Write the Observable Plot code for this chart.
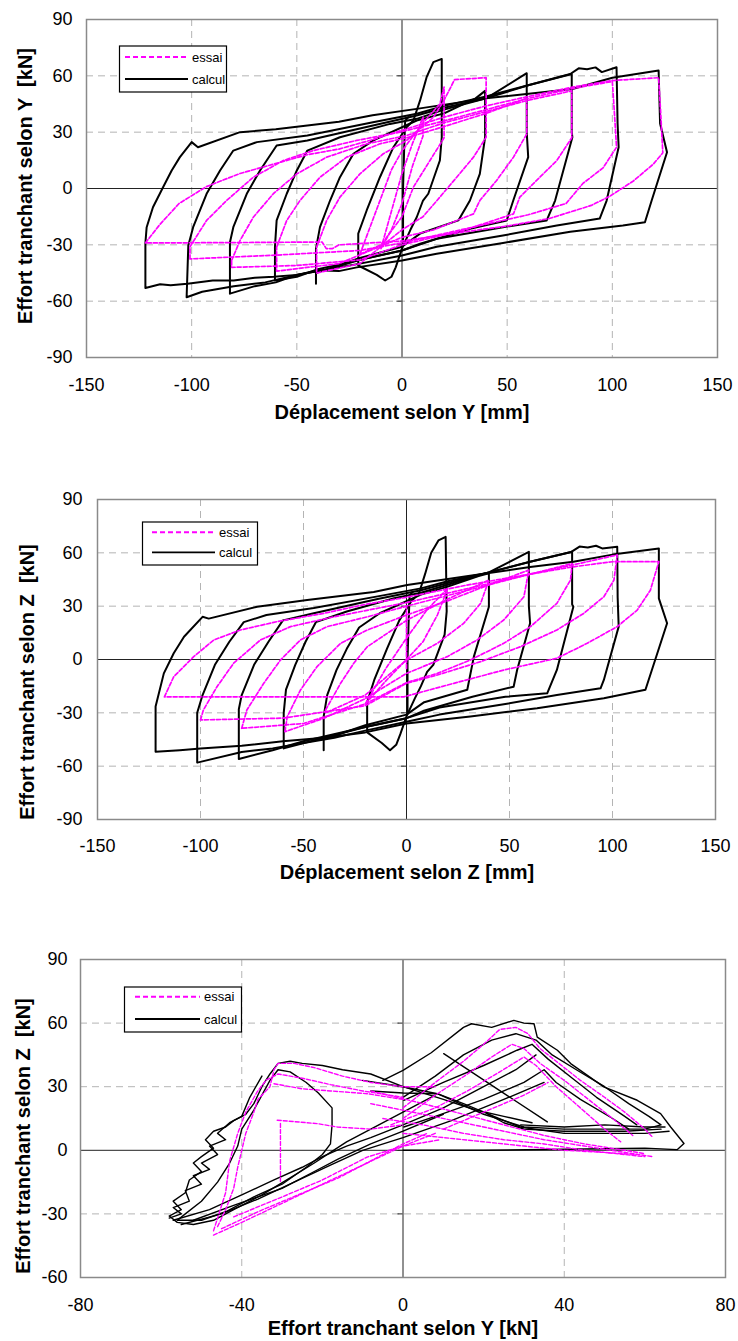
<!DOCTYPE html>
<html><head><meta charset="utf-8">
<script src="https://cdn.jsdelivr.net/npm/d3@7"></script>
<script src="https://cdn.jsdelivr.net/npm/@observablehq/plot@0.6"></script>
<style>
body{margin:0;background:#fff;font-family:"Liberation Sans",Arial,sans-serif;}
.panel{position:absolute;left:0;width:738px;}
</style></head><body>
<div id="p1" class="panel" style="top:0px"></div>
<div id="p2" class="panel" style="top:440px"></div>
<div id="p3" class="panel" style="top:900px"></div>
<script>
// ---------- Tick values ----------
const dispTicks = [-150, -100, -50, 0, 50, 100, 150];
const forceTicks = [-90, -60, -30, 0, 30, 60, 90];
const shearYTicks = [-80, -40, 0, 40, 80];
const shearZTicks = [-60, -30, 0, 30, 60, 90];
const legendLabels = ["essai", "calcul"];

// ---------- Panel 1 : displacement Y [mm] vs shear Y [kN] ----------
const calcY_122 = [[-122,-53],[-122,-29],[-121.4,-20.6],[-118.4,-10],[-113.6,0.7],[-109.5,9.6],[-105.6,16.7],[-100,24.7],[-97,22],[-77,30],[-60,31.5],[-45,33.5],[-30,35.5],[-14,39],[7,42.4],[40,48],[81,53],[100,59],[122,62.8],[122.7,34.6],[126,19.3],[118.7,-6.4],[115.5,-18],[105,-19.7],[80,-23],[48,-29],[16.5,-34.7],[0,-38.3],[-21.5,-42],[-30,-44],[-40,-43.5],[-50,-46],[-61,-47],[-70,-47.5],[-80,-49],[-90,-49],[-102,-50.7],[-110,-51.5],[-115,-51],[-122,-53]];
const calcY_102 = [[-102.4,-57.9],[-101.6,-30.4],[-99.3,-20.6],[-92.9,-2.8],[-86.5,9.6],[-80.2,20.2],[-69,24.7],[-45,28.2],[-13.8,35.3],[7,39.8],[20,44],[40,49],[60,55],[80,61],[84,64],[88,63.5],[92,64.5],[95,62],[102,64.6],[102.5,34.6],[103,22],[97.3,-6.4],[94,-16],[73.6,-19.7],[48,-25],[16.5,-31],[0,-35.7],[-20,-40],[-35,-43],[-50,-46],[-65,-50],[-80,-52],[-95,-55],[-102.4,-57.9]];
const calcY_82 = [[-81.8,-56],[-81.8,-28.6],[-80.2,-20.6],[-73.8,-2.8],[-67.5,9.6],[-59.6,22.9],[-45,25.6],[-13.8,33.5],[7,38.9],[20,43],[40,48],[60,55],[80.7,61],[80.7,30],[81,27.3],[72.8,-6.4],[68.8,-17],[48,-20.6],[16.5,-26.8],[0,-33],[-20,-38],[-35,-43],[-50,-46],[-60,-50],[-70,-52],[-81.8,-56]];
const calcY_60 = [[-60.4,-49],[-60.4,-31],[-59.6,-17],[-54.8,-2.8],[-50,9.6],[-45,20.2],[-29.5,27.3],[-5.7,34.4],[7,37.1],[20,42],[40,48],[59.3,61.4],[59.3,30],[60,16.7],[52.9,-6.4],[49.8,-17],[32.3,-21.5],[8.6,-29.4],[0,-33],[-20,-38],[-40,-43],[-50,-47],[-60.4,-49]];
const calcY_40 = [[-40.9,-50.7],[-40.9,-32],[-39,-20.6],[-34.2,-6.4],[-29.5,6],[-23.1,18.5],[-13.6,25.6],[7,36.2],[20,40],[35,48],[39.5,52],[39.5,27.3],[37,7.8],[32.3,-6.4],[26.8,-17],[8.6,-24],[0,-31],[-20,-37],[-40.9,-45],[-40.9,-50.7]];
const calcY_20 = [[-20.8,-41],[-20.8,-24],[-16.8,-11.7],[-10.5,6],[-4.1,22],[2.2,32.6],[5.4,36.2],[8.6,46.9],[11.7,59.3],[14.9,67.3],[18.9,69],[18.9,27.3],[18,14.9],[12.5,-2.8],[10,-6.4],[7,-15.3],[4,-22],[0,-32],[-3,-42],[-5,-47],[-8,-49],[-12,-46],[-20.8,-41]];
const calcY_0 = [[0.5,-30],[0.5,0],[1,20],[1.5,36],[3,38]];

const essY_122 = [[-122,-29],[-115,-19],[-106,-8],[-93,1],[-77,8],[-61,13],[-45,18],[-30,21],[-14,26],[0,31],[20,38],[40,44],[60,49],[81,54],[100,57.5],[122,59],[123,40],[124,19],[119.5,13],[110,4],[99,-4],[90,-9],[70,-16],[50,-20],[30,-23],[0,-28],[-30,-30],[-33,-32],[-36,-32],[-38,-28.5],[-80,-28.8],[-122,-29]];
const essY_100 = [[-100.8,-37.5],[-100.8,-31],[-92.9,-17],[-83.4,-6.4],[-70.7,6],[-56.4,14.9],[-42.2,20.2],[-21.5,25.6],[-1,30],[20,36],[40,42],[60,48],[80,53],[100,57],[101,40],[102,22],[95.6,11],[86,2.7],[78,-8],[60,-14],[40,-19],[20,-24],[0,-29],[-20,-33],[-60,-35.5],[-100.8,-37.5]];
const essY_80 = [[-81,-38.3],[-77,-27.7],[-70.7,-15.3],[-61.2,-2.8],[-50,7.8],[-35.8,16.7],[-16.8,23.8],[2.2,28.2],[20,35],[40,41],[60,47],[80.7,52],[80.7,27],[73.6,14.9],[64,4.3],[56,-4.6],[53,-13.5],[30,-22],[0,-30],[-20,-38],[-50,-41],[-81,-42],[-81,-38.3]];
const essY_60 = [[-59.6,-31.2],[-54.8,-17],[-48.5,-6.4],[-39,6],[-26.3,16.7],[-10.5,23.8],[2.2,27],[20,33],[40,40],[59.3,48],[59.3,29],[53,16.7],[45,4.3],[37,-6.4],[34,-13.5],[15,-22],[0,-26],[-30,-40],[-59.6,-44],[-59.6,-31.2]];
const essY_40 = [[-40.6,-31.2],[-35.8,-17],[-29.5,-4.6],[-20,7.8],[-8.9,18.5],[2.2,25.6],[15,38],[20,47],[25,58],[40,59],[40,27.3],[34,16.7],[26,6],[18,-4.6],[10,-15],[0,-22],[-20,-40],[-40.6,-45],[-40.6,-31.2]];
const essY_20 = [[-20,-35],[-15,-20],[-10,-5],[-5,10],[0,20],[10,35],[18,45],[20,54],[20,27],[13.3,14.9],[5.4,0.7],[0,-15],[-10,-30],[-20,-35]];
const essY_10 = [[-10,-32],[-5,-12],[0,8],[5,24],[10,38],[10,28],[5,12],[0,-8],[-5,-22],[-10,-32]];

// ---------- Panel 2 : displacement Z [mm] vs shear Z [kN] ----------
const calcZ_122 = [[-121.8,-51.9],[-121.8,-26.5],[-117.8,-7.8],[-113,3.5],[-108,12.8],[-99,24],[-96,23],[-72.5,29.7],[-48.2,33.5],[-15.9,38],[0.3,41.9],[30,47],[60,52],[81,55],[100,59],[122.5,62.5],[122.5,34.4],[126.5,20.4],[116,-17],[95.8,-21.8],[63.4,-27.4],[31,-32],[0,-36],[-20,-41],[-40,-44],[-60,-46],[-80,-48.5],[-100,-50],[-110,-51],[-121.8,-51.9]];
const calcZ_102 = [[-101.6,-58],[-101.6,-30],[-99,-20],[-93,-3],[-86,10],[-79,21],[-68,25],[-45,29],[-14,35.5],[7,40],[20,44],[40,49],[60,55],[80,60.5],[84,63.5],[88,63],[92,64],[95,62.5],[102.3,63.4],[102.5,35],[103,18.5],[95.8,-11.5],[94.2,-16.2],[73,-20],[48,-25],[16,-31],[0,-35],[-20,-40],[-35,-44],[-50,-47],[-65,-50],[-80,-52],[-101.6,-58]];
const calcZ_82 = [[-81.4,-56],[-81.4,-28],[-80,-20],[-74,-3],[-67,10],[-60,22],[-45,26],[-14,34],[7,39],[20,43],[40,49],[60,55],[80.4,60.6],[80.4,31],[81,29.7],[73,-5.9],[68.3,-19],[48,-21],[16,-27],[0,-33],[-20,-38],[-50,-46],[-65,-51],[-81.4,-56]];
const calcZ_60 = [[-59.6,-50],[-59.6,-30],[-58.5,-17],[-54,-3],[-49,10],[-44,21],[-29,27],[-6,34.5],[7,37.5],[20,42],[40,49],[59.4,60.6],[59.4,30],[60,20.4],[53.7,-5.9],[52,-15.3],[32,-21],[8,-29],[0,-33],[-20,-38],[-40,-44],[-59.6,-50]];
const calcZ_40 = [[-40.2,-51],[-40.2,-32],[-38.5,-20],[-34,-6],[-29,6],[-23,18],[-13,26],[7,36.5],[20,41],[35,47],[40,48.5],[40,29.7],[32.7,1.6],[29.5,-17],[8.6,-24],[0,-31],[-20,-37],[-40.2,-45],[-40.2,-51]];
const calcZ_20 = [[-19.1,-41],[-19.1,-24],[-15.5,-11],[-9.5,6],[-3.5,22],[2.5,33],[6,37],[9,48],[12,60],[15.5,67],[19,69],[19.5,27],[18.5,14],[13,-3],[10,-7],[7,-15],[4,-22],[0,-32],[-3,-42],[-5,-48],[-8,-51],[-12,-47],[-19.1,-41]];
const calcZ_0 = [[0.5,-30],[0.5,0],[1,20],[1.5,36],[3,38]];

const essZ_120 = [[-117.5,-21],[-113,-9.7],[-103.3,1.6],[-93.5,11],[-80.6,16.6],[-62.8,21.3],[-40,26],[-20,31],[0,35],[30,42],[60,48],[80,52],[100,55],[122.5,55],[118.4,39],[112,27.8],[102.3,18.5],[87.7,9.1],[73,0.7],[47.3,-5.9],[23,-13.4],[-1.3,-21],[-19,-21],[-60,-21],[-117.5,-21]];
const essZ_100 = [[-100,-34],[-98.6,-28.4],[-92,-15.3],[-83.9,-2.1],[-70.9,11],[-56.3,18.5],[-35.3,24],[0,32],[30,40],[60,48],[80,53],[102.3,58.8],[100.7,44.7],[95.8,35.3],[86.1,26],[73,16.6],[55.3,7.2],[36,-1.2],[15,-8.7],[0,-13.4],[-20,-26],[-60,-33],[-100,-34]];
const essZ_80 = [[-80,-38.7],[-77.5,-28.4],[-69.3,-13.4],[-61.2,-0.3],[-51.5,11],[-38.5,18.5],[-19,24],[0,30],[20,36],[40,42],[60,48],[80.4,54],[79.6,44.7],[73,31.6],[60.2,18.5],[47.2,9.1],[31,-0.3],[15,-7.8],[0,-13],[-20,-25],[-50,-36],[-80,-38.7]];
const essZ_60 = [[-59,-40.6],[-57.9,-32.2],[-51.5,-17.2],[-43.4,-4],[-32,9.1],[-19,16.6],[0,25],[20,33],[40,42],[59.4,50.3],[57,35.3],[47.2,22.2],[34.3,11],[19.8,1.6],[0,-7.8],[-20,-22],[-40,-33],[-59,-40.6]];
const essZ_40 = [[-39.3,-28.4],[-32,-13.4],[-25.6,-2.1],[-19,7.2],[0,22],[20,34],[40,44.7],[36,31.6],[27.8,20.4],[15,9.1],[0,-0.3],[-10,-10],[-20,-20],[-39.3,-30],[-39.3,-28.4]];
const essZ_20 = [[-20,-25],[-10,-5],[0,12],[10,28],[20,40],[15,25],[8,10],[0,0],[-10,-12],[-20,-25]];
const essZ_0 = [[0,-5],[0,30]];

// ---------- Panel 3 : shear Y [kN] vs shear Z [kN] ----------
const calc3_a = [[0,30],[-8,36],[-15,38],[-20,40],[-25,41],[-28,42],[-31,41],[-33,36],[-35,30],[-37,22],[-39,17],[-42,14],[-44,11],[-47,9],[-49,5],[-47,1],[-50,-3],[-52,-6],[-50,-10],[-53,-14],[-54,-20],[-57,-24],[-55,-28],[-58,-31],[-56,-34],[-52,-35],[-47,-33],[-42,-28],[-35,-21],[-28,-13],[-22,-6],[-18,-1],[-14,4],[-8,10],[0,18],[8,26]];
const calc3_b = [[-18,3],[-17.6,12],[-17.6,20],[-21,27],[-24,32],[-28,37],[-31,38],[-33,33],[-35,26],[-37,19],[-40,10],[-41,2],[-43,-6],[-46,-15],[-50,-24],[-54,-30],[-56,-33],[-50,-33],[-44,-29],[-37,-22],[-30,-16],[-24,-8],[-20,-2],[-18,3]];
const calc3_c = [[-35,35],[-38,25],[-40,16],[-43,13],[-46,8],[-44,5],[-48,2],[-46,-2],[-50,-6],[-48,-9],[-52,-12],[-50,-16],[-54,-19],[-53,-24],[-57,-27],[-55,-30],[-58,-32]];
const calc3_d = [[-57,-33],[-48,-28],[-40,-21],[-32,-14],[-25,-8],[-20,-3],[-14,2],[-8,6],[0,12],[10,20],[20,30],[28,38],[33,45]];
const calc3_e = [[-55,-35],[-45,-30],[-36,-23],[-27,-15],[-18,-7],[-10,0],[0,6],[12,14],[25,24],[35,32]];
const calc3_f = [[-52,-33],[-42,-26],[-30,-18],[-22,-10],[-16,-4],[-8,3],[0,9],[10,17]];
const calc3_g = [[-5,33],[0,37.7],[7,46],[15,58],[17,59.7],[22,58],[27.5,61.3],[30,60],[32.5,59.7],[33.3,53.4],[38.3,47.2],[41.6,40.9],[49.8,29.9],[58.1,23.6],[63.9,17.3],[66.4,11],[69.7,3.2],[68,0.3],[60,1],[40,0.5],[20,0],[0,0]];
const calc3_h = [[0,25],[8,35],[15,45],[22,52],[28,55],[33,52],[37,45],[43,38],[50,30],[56,22],[61,16],[64,12],[60,10],[50,10],[40,10],[30,11],[20,17],[8.5,26.7],[0,30]];
const calc3_i = [[0.2,23.6],[10,32],[20,40],[28.3,47.2],[32,50],[36,43],[42,34],[48,25],[55,16],[58,12]];
const calc3_j = [[0.2,11],[8,16],[20,24],[30,32],[35,38],[38,32],[44,24],[52,15],[56,10]];
const calc3_k = [[10.1,45.6],[35.8,13.4]];
const calc3_l = [[29.2,12],[40,11],[50,12],[60,11],[65,11]];
const calc3_m = [[20.9,17.3],[29,11],[40,8],[50,8],[60,8],[66,9]];
const calc3_n = [[-8,28],[0,27],[8.5,26.7],[15,22],[20.9,17.3],[25,13],[30,10],[40,9],[55,9],[64,10]];
const calc3_o = [[-10,33],[0,30],[10,24],[18,19],[25,16],[32,13]];

const ess3_a = [[-47,-40],[-40,-34],[-30,-25],[-20,-16],[-10,-7],[0,2],[8,8]];
const ess3_b = [[-45,-37],[-36,-29],[-26,-21],[-16,-13],[-8,-5],[0,3],[6,8]];
const ess3_c = [[-42,-31.4],[-30,-22],[-20,-14],[-8.9,-3.2],[0,2],[9.3,5]];
const ess3_d = [[-46,-36],[-44,-28],[-42,-18],[-41,-8],[-40,0],[-39,8],[-37,18],[-36,24],[-33,30],[-32,38],[-31,41],[-27,41],[-22,39],[-15,35],[-8,32],[0,30],[8,30]];
const ess3_e = [[-47,-38],[-44,-20],[-43,-5],[-41,8],[-39,18],[-36.2,27.5],[-34,33],[-31,36],[-25,34],[-18,31],[-10,28],[0,25]];
const ess3_f = [[-30.4,12.7],[-30.4,-15.6]];
const ess3_g = [[-32,31.4],[-25,29],[-18,28],[-8.9,26.7],[0,24]];
const ess3_h = [[-31.2,14.2],[-21.3,12.6],[-16.3,11],[-8,10],[0,12]];
const ess3_i = [[0,20],[8,32],[15,42],[20,50],[24,57],[28,58],[31,55],[34,48],[38,42],[44,33],[50,25],[55,18],[60,10],[62,6]];
const ess3_j = [[0,15],[8,26],[16,36],[22,44],[27,50],[30,48],[34,41],[40,33],[46,24],[52,15],[57,7]];
const ess3_k = [[-3,12],[8,20],[16,28],[24,37],[30,44],[33,40],[38,30],[44,20],[50,10],[54,4]];
const ess3_l = [[-8,28],[5,22],[15,17],[25,12],[35,7],[45,3],[55,0],[60,-1.6]];
const ess3_m = [[-8,22],[5,17],[15,13],[25,9],[35,5],[45,2],[55,-1],[62,-3]];
const ess3_n = [[-5,15],[5,12],[15,8],[25,5],[35,3],[45,0],[55,-2],[60,-3]];
const ess3_o = [[0,8],[10,6],[20,4],[30,2],[40,0],[50,-1],[58,-2]];
const ess3_p = [[10,10],[20,18],[30,26],[36,32]];

// ---------- helpers ----------
const toRows = loops => loops.flatMap((pts, k) => pts.map(([x, y]) => ({x, y, k})));
const fmt = d => String(d);
const MAGENTA = "#ff00ff";

function panel(cfg) {
  const xGrid = cfg.xTicks.filter((d, i) => d !== 0 && i > 0 && i < cfg.xTicks.length - 1);
  const yGrid = cfg.yTicks.filter((d, i) => d !== 0 && i > 0 && i < cfg.yTicks.length - 1);
  const svg = Plot.plot({
    width: 738, height: cfg.height,
    marginTop: cfg.m[0], marginRight: cfg.m[1], marginBottom: cfg.m[2], marginLeft: cfg.m[3],
    style: {fontFamily: '"Liberation Sans", Arial, sans-serif', fontSize: "18px", color: "#000", background: "#fff", overflow: "visible"},
    x: {domain: cfg.xDomain, ticks: cfg.xTicks, tickSize: 0, tickPadding: cfg.xPad, tickFormat: fmt, label: null},
    y: {domain: cfg.yDomain, ticks: cfg.yTicks, tickSize: 0, tickPadding: cfg.yPad, tickFormat: fmt, label: null},
    marks: [
      Plot.gridX(xGrid, {stroke: "#b4b4b4", strokeOpacity: 1, strokeDasharray: "7,5"}),
      Plot.gridY(yGrid, {stroke: "#b4b4b4", strokeOpacity: 1, strokeDasharray: "7,5"}),
      Plot.ruleX([0], {stroke: "#222", strokeWidth: 1}),
      Plot.ruleY([0], {stroke: "#222", strokeWidth: 1}),
      Plot.ruleY(cfg.yTicks, {x1: 0, x2: cfg.tickLen, stroke: "#222"}),
      Plot.line(toRows(cfg.calc), {x: "x", y: "y", z: "k", stroke: "#000", strokeWidth: cfg.calcW, strokeLinejoin: "round"}),
      Plot.line(toRows(cfg.ess), {x: "x", y: "y", z: "k", stroke: MAGENTA, strokeWidth: cfg.essW, strokeDasharray: "4,2"}),
      Plot.frame({stroke: "#8a8a8a", strokeWidth: 1.5})
    ]
  });
  const s = d3.select(svg);
  // axis titles
  s.append("text").attr("x", cfg.xTitle[1]).attr("y", cfg.xTitle[2])
    .attr("text-anchor", "middle").attr("font-size", 20).attr("font-weight", "bold")
    .style("white-space", "pre").text(cfg.xTitle[0]);
  s.append("text").attr("transform", `translate(${cfg.yTitle[1]},${cfg.yTitle[2]}) rotate(-90)`)
    .attr("text-anchor", "middle").attr("font-size", 20).attr("font-weight", "bold")
    .style("white-space", "pre").text(cfg.yTitle[0]);
  // legend
  const [bx, by, bw, bh] = cfg.legend;
  const lg = s.append("g").attr("text-anchor", "start");
  lg.append("rect").attr("x", bx).attr("y", by).attr("width", bw).attr("height", bh)
    .attr("fill", "#fff").attr("stroke", "#000").attr("stroke-width", 1.2);
  const [lx1, lx2, tx, ly1, ly2] = cfg.legendLines;
  lg.append("line").attr("x1", lx1).attr("x2", lx2).attr("y1", ly1).attr("y2", ly1)
    .attr("stroke", MAGENTA).attr("stroke-width", 2).attr("stroke-dasharray", "5,3");
  lg.append("line").attr("x1", lx1).attr("x2", lx2).attr("y1", ly2).attr("y2", ly2)
    .attr("stroke", "#000").attr("stroke-width", 1.8);
  lg.append("text").attr("x", tx).attr("y", ly1 + 4.5).attr("font-size", 13).attr("text-anchor", "start").text(legendLabels[0]);
  lg.append("text").attr("x", tx).attr("y", ly2 + 4.5).attr("font-size", 13).attr("text-anchor", "start").text(legendLabels[1]);
  document.getElementById(cfg.id).appendChild(svg);
}

panel({
  id: "p1", height: 425, m: [19, 21, 68, 86],
  xDomain: [-150, 150], yDomain: [-90, 90], xTicks: dispTicks, yTicks: forceTicks,
  xPad: 21, yPad: 14, tickLen: -2.4, calcW: 2, essW: 1.7,
  calc: [calcY_122, calcY_102, calcY_82, calcY_60, calcY_40, calcY_20, calcY_0],
  ess: [essY_122, essY_100, essY_80, essY_60, essY_40, essY_20, essY_10],
  xTitle: ["Déplacement selon Y [mm]", 402, 419],
  yTitle: ["Effort tranchant selon Y  [kN]", 32, 186],
  legend: [119.5, 46, 107, 46], legendLines: [125, 188, 192, 57, 79]
});
panel({
  id: "p2", height: 450, m: [59, 23, 71, 97],
  xDomain: [-150, 150], yDomain: [-90, 90], xTicks: dispTicks, yTicks: forceTicks,
  xPad: 20, yPad: 15, tickLen: -2.4, calcW: 2, essW: 1.7,
  calc: [calcZ_122, calcZ_102, calcZ_82, calcZ_60, calcZ_40, calcZ_20, calcZ_0],
  ess: [essZ_120, essZ_100, essZ_80, essZ_60, essZ_40, essZ_20, essZ_0],
  xTitle: ["Déplacement selon Z [mm]", 407, 439],
  yTitle: ["Effort tranchant selon Z  [kN]", 34, 242],
  legend: [142.5, 82, 115, 43], legendLines: [152, 215, 219, 92.3, 112.3]
});
panel({
  id: "p3", height: 441, m: [59, 13, 64, 80],
  xDomain: [-80, 80], yDomain: [-60, 90], xTicks: shearYTicks, yTicks: shearZTicks,
  xPad: 21, yPad: 13, tickLen: -1.25, calcW: 1.4, essW: 1.4,
  calc: [calc3_a, calc3_b, calc3_c, calc3_d, calc3_e, calc3_f, calc3_g, calc3_h, calc3_i, calc3_j, calc3_k, calc3_l, calc3_m, calc3_n, calc3_o],
  ess: [ess3_a, ess3_b, ess3_c, ess3_d, ess3_e, ess3_f, ess3_g, ess3_h, ess3_i, ess3_j, ess3_k, ess3_l, ess3_m, ess3_n, ess3_o, ess3_p],
  xTitle: ["Effort tranchant selon Y [kN]", 403, 435],
  yTitle: ["Effort tranchant selon Z  [kN]", 30, 236],
  legend: [124.5, 87, 117, 45], legendLines: [135, 200, 204, 96.7, 119]
});
</script>
</body></html>
